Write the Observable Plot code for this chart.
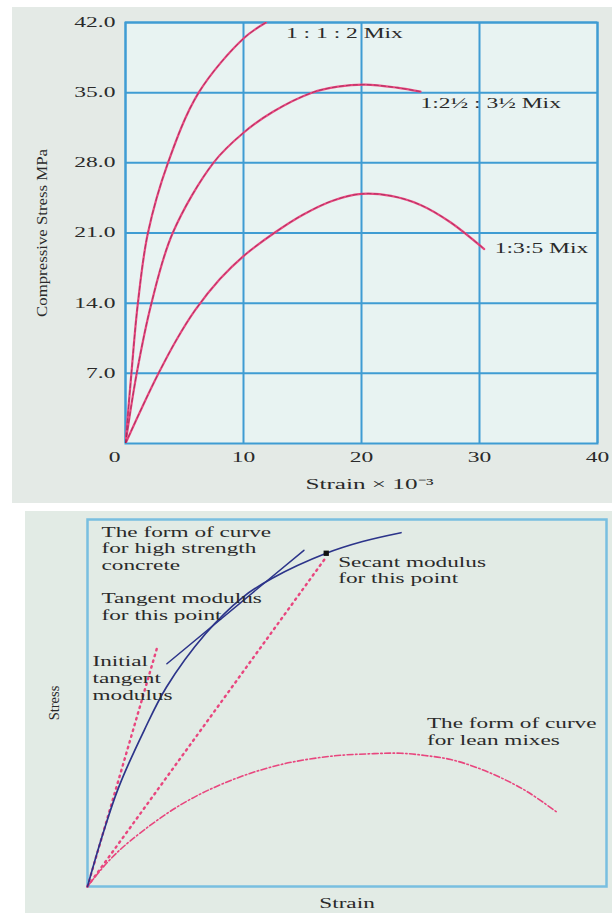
<!DOCTYPE html>
<html><head><meta charset="utf-8">
<script src="https://cdn.jsdelivr.net/npm/d3@7"></script>
<script src="https://cdn.jsdelivr.net/npm/@observablehq/plot@0.6"></script>
<style>
html,body{margin:0;padding:0;background:#fff;}
body{width:612px;height:913px;position:relative;overflow:hidden;font-family:"Liberation Serif",serif;}
#top{position:absolute;left:12px;top:7px;width:600px;height:496px;background:#e4eae6;}
#bottom{position:absolute;left:25px;top:511px;width:587px;height:402px;background:#e2ebe5;}
svg{display:block;overflow:visible;}
</style></head><body>
<div id="top"></div><div id="bottom"></div>
<script>
// ---------- top chart data ----------
const xTicks = [0, 10, 20, 30, 40];
const yTicks = [7, 14, 21, 28, 35, 42];
const xLabel = "Strain × 10⁻³";
const yLabel = "Compressive Stress MPa";
const mix112 = [[0,0],[0.5,7],[1.05,14],[1.9,21],[3.6,28],[6.2,35],[10,40.4],[11.9,42]];
const mix2535 = [[0,0],[0.95,7],[2.2,14],[4.0,21],[7.45,28],[10,31],[12.5,33.1],[15.8,35],[18,35.6],[20.3,35.8],[23,35.5],[25,35.1]];
const mix135 = [[0,0],[1.4,3.6],[2.8,7],[4.3,10.3],[5.9,13.3],[8,16.4],[10,18.7],[12.6,21],[15,22.8],[17.5,24.2],[20,24.9],[22.5,24.7],[25,23.8],[27.5,22.1],[30.4,19.4]];
const mixNames = ["1 : 1 : 2 Mix", "1:2½ : 3½ Mix", "1:3:5 Mix"];
const mixLabelX = [13.6, 25.0, 31.3];
const mixLabelY = [40.9, 33.9, 19.5];

// ---------- bottom chart data ----------
const highStrength = [[0,0],[3,14.5],[6,27],[10.9,42.5],[15.2,54.3],[22.7,68.8],[29.9,78.8],[35.6,84],[46,90.8],[53,94],[60.4,96.4]];
const tangentLine = [[15.3,60.7],[41.7,91.6]];
const initialTangent = [[0,0],[13.35,64.8]];
const secantLine = [[0,0],[45.8,89.4]];
const secantPoint = [[46,90.8]];
const leanMix = [[0,0],[3.85,6.6],[8.3,12.5],[18,22.3],[27.6,28.9],[37.2,33.2],[46.9,35.5],[55.2,36.2],[60.4,36.3],[65,35.7],[70,34.6],[75,32.4],[80,29.4],[85,25.6],[90.5,20.2]];
const noteTexts = ["The form of curve\nfor high strength\nconcrete","Tangent modulus\nfor this point","Initial\ntangent\nmodulus","Secant modulus\nfor this point","The form of curve\nfor lean mixes"];
const noteX = [2.7, 2.7, 0.96, 48.3, 65.4];
const noteY = [98.5, 80.4, 63.2, 90.4, 46.3];

const mixRows = [mix112, mix2535, mix135].flatMap((s, i) => s.map(([strain, stress]) => ({mix: mixNames[i], strain, stress})));
const mixLabels = mixNames.map((label, i) => ({label, x: mixLabelX[i], y: mixLabelY[i]}));
const notes = noteTexts.map((text, i) => ({text, x: noteX[i], y: noteY[i]}));

const FONT = "'Liberation Serif', 'Times New Roman', serif";
const blue = "#3f9cd3";
const pink = "#e8467e";
const navy = "#2c348a";
const ink = "#2a2a2a";

const topChart = Plot.plot({
  width: 600, height: 496,
  marginLeft: 113, marginRight: 15, marginTop: 15, marginBottom: 60,
  style: {background: "transparent", fontFamily: FONT, fontSize: "14px", color: ink},
  x: {domain: [0, 40]},
  y: {domain: [0, 42]},
  marks: [
    Plot.frame({fill: "#e8f3f2"}),
    Plot.gridX(xTicks, {stroke: blue, strokeOpacity: 1, strokeWidth: 2}),
    Plot.gridY(yTicks, {stroke: blue, strokeOpacity: 1, strokeWidth: 2}),
    Plot.frame({stroke: blue, strokeWidth: 2}),
    Plot.axisX(xTicks.filter(d => d > 0), {tickSize: 0, tickPadding: 9, tickFormat: d => String(d), label: null, fontSize: 14}),
    Plot.text(xTicks.filter(d => d === 0), {x: d => d, text: d => String(d), frameAnchor: "bottom", lineAnchor: "top", dy: 9, dx: -11, fontSize: 14, fill: ink}),
    Plot.axisY(yTicks, {tickSize: 0, tickPadding: 10, tickFormat: d3.format(".1f"), label: null, fontSize: 14}),
    Plot.line(mixRows, {x: "strain", y: "stress", z: "mix", stroke: pink, strokeWidth: 2.2, curve: "catmull-rom", clip: true}),
    Plot.line(mixRows, {x: "strain", y: "stress", z: "mix", stroke: "#6a1b3d", strokeWidth: 0.9, strokeOpacity: 0.5, strokeDasharray: "4,3", curve: "catmull-rom", clip: true}),
    Plot.text(mixLabels, {x: "x", y: "y", text: "label", textAnchor: "start", lineAnchor: "middle", fontSize: 14, fill: ink}),
    Plot.text([xLabel], {text: d => d, frameAnchor: "bottom", textAnchor: "middle", lineAnchor: "top", dy: 35, dx: 8, fontSize: 15, fill: ink}),
    Plot.text([yLabel], {text: d => d, frameAnchor: "left", textAnchor: "middle", rotate: -90, lineAnchor: "middle", dx: -83, fontSize: 14, fill: ink})
  ]
});

const bottomChart = Plot.plot({
  width: 587, height: 402,
  marginLeft: 62, marginRight: 6, marginTop: 8, marginBottom: 27,
  style: {background: "transparent", fontFamily: FONT, fontSize: "15px", color: ink},
  x: {domain: [0, 100], axis: null},
  y: {domain: [0, 100], axis: null},
  marks: [
    Plot.frame({stroke: "#78bfe0", strokeWidth: 2.5}),
    Plot.line(leanMix, {x: d => d[0], y: d => d[1], stroke: pink, strokeWidth: 1.6, strokeDasharray: "6,2.5,1.5,2.5", curve: "catmull-rom"}),
    Plot.line(initialTangent, {x: d => d[0], y: d => d[1], stroke: pink, strokeWidth: 2.4, strokeDasharray: "1.5,4.5", strokeLinecap: "round"}),
    Plot.line(secantLine, {x: d => d[0], y: d => d[1], stroke: pink, strokeWidth: 2.4, strokeDasharray: "1.5,4.5", strokeLinecap: "round"}),
    Plot.line(highStrength, {x: d => d[0], y: d => d[1], stroke: navy, strokeWidth: 1.7, curve: "catmull-rom"}),
    Plot.line(tangentLine, {x: d => d[0], y: d => d[1], stroke: navy, strokeWidth: 1.5}),
    Plot.dot(secantPoint, {x: d => d[0], y: d => d[1], symbol: "square", r: 3, fill: "#111", stroke: "none"}),
    Plot.text(notes, {x: "x", y: "y", text: "text", textAnchor: "start", lineAnchor: "top", lineHeight: 1.11, fontSize: 15, fill: ink}),
    Plot.text(["Strain"], {text: d => d, frameAnchor: "bottom", textAnchor: "middle", lineAnchor: "top", dy: 11, fontSize: 15, fill: ink}),
    Plot.text(["Stress"], {text: d => d, frameAnchor: "left", textAnchor: "middle", rotate: -90, lineAnchor: "middle", dx: -33, fontSize: 14.5, fill: ink})
  ]
});

function stretch(svg, k, kr) {
  svg.querySelectorAll("text").forEach(t => {
    const tr = t.getAttribute("transform") || "";
    if (/rotate/.test(tr)) { t.setAttribute("transform", tr + ` scale(${kr},1)`); return; }
    const x = parseFloat(t.getAttribute("x")) || 0, y = parseFloat(t.getAttribute("y")) || 0;
    t.setAttribute("transform", `${tr} translate(${x},${y}) scale(${k},1) translate(${-x},${-y})`);
  });
}
stretch(topChart, 1.68, 1.2);
stretch(bottomChart, 1.55, 1.0);
document.getElementById("top").appendChild(topChart);
document.getElementById("bottom").appendChild(bottomChart);
</script>
</body></html>
